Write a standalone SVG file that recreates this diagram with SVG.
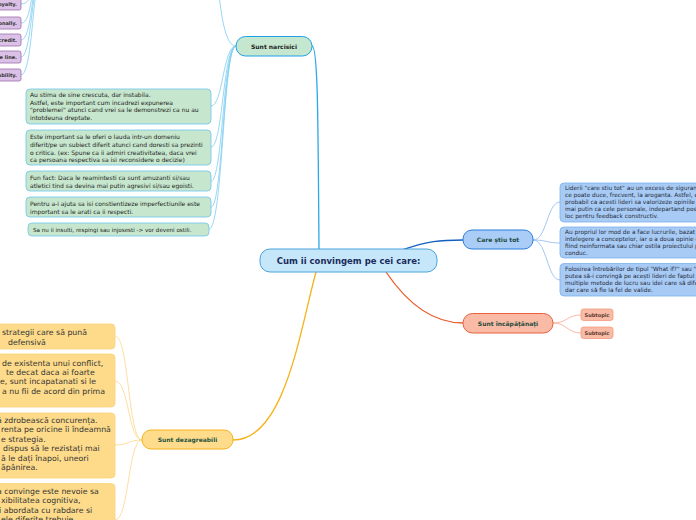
<svg xmlns="http://www.w3.org/2000/svg" width="696" height="520" viewBox="0 0 696 520">
<style>
text{font-family:"DejaVu Sans","Liberation Sans",sans-serif}
.c{fill:none}
.main{font-weight:bold;font-size:8.5px;fill:#1a2b5c}
.br{font-weight:bold;font-size:6px}
.g rect{fill:#c6e6cd;stroke:#6cc5ec;stroke-width:0.8}
.g text{font-size:6px;fill:#222}
.p rect{fill:#dcc1e6;stroke:#9c6fae;stroke-width:0.8}
.p text{font-size:5px;font-weight:bold;fill:#333;text-anchor:end}
.b rect{fill:#a8cbf5;stroke:#7ab0ee;stroke-width:0.8}
.b text{font-size:5.8px;fill:#1f2a3a}
.y rect{fill:#fedb8a;stroke:#fbd27a;stroke-width:0.8}
.y text{font-size:7.8px;fill:#333}
.s rect{fill:#f9bba5;stroke:#f29a7e;stroke-width:0.8}
.s text{font-size:5px;font-weight:bold;fill:#5a3a30;text-anchor:middle}
</style>
<rect width="696" height="520" fill="#fff"/>
<g id="connectors" class="c">
  <g stroke="#2aa9e6" stroke-width="1.3"><path d="M319,249 C318,120 318,46 312,46"/></g>
  <g stroke="#1560bd" stroke-width="1.5"><path d="M402,250 C428,241 440,240 463,240"/></g>
  <g stroke="#e85a2c" stroke-width="1.3"><path d="M386,272 C405,300 430,323 463,323"/></g>
  <g stroke="#f6b219" stroke-width="1.3"><path d="M316,272 C300,330 285,440 233,440"/></g>
  <g stroke="#7fcdf0" stroke-width="0.8">
    <path d="M236,46 C226,46 222,20 219,-5"/>
    <path d="M236,46 C223,46 223,106 211,106"/>
    <path d="M236,46 C223,46 223,147 211,147"/>
    <path d="M236,46 C223,46 223,181 211,181"/>
    <path d="M236,46 C223,46 223,207 211,207"/>
    <path d="M236,46 C223,46 223,229 209,229"/>
    <path d="M21,4 C28,4 30,-2 32,-8"/>
    <path d="M21,23 C29,23 30,5 33,-8"/>
    <path d="M21,40 C29,40 31,10 34,-8"/>
    <path d="M21,57 C29,57 31,15 35,-8"/>
    <path d="M21,75 C30,75 32,20 36,-8"/>
  </g>
  <g stroke="#8db8ee" stroke-width="0.8">
    <path d="M533,240 C547,240 547,202 560,202"/>
    <path d="M533,240 C547,240 547,243 560,243"/>
    <path d="M533,240 C547,240 547,280 560,280"/>
  </g>
  <g stroke="#f6a88f" stroke-width="0.8">
    <path d="M553,323 C567,323 567,315 581,315"/>
    <path d="M553,323 C567,323 567,333 581,333"/>
  </g>
  <g stroke="#fcd68a" stroke-width="0.8">
    <path d="M142,440 C128,440 129,336 115,336"/>
    <path d="M142,440 C128,440 129,381 115,381"/>
    <path d="M142,440 C128,440 129,445 115,445"/>
    <path d="M142,440 C128,440 129,520 115,520"/>
  </g>
</g>
<g id="central">
  <rect x="260" y="249" width="177" height="23" rx="10" fill="#c6e7fa" stroke="#4ba3dc" stroke-width="1"/>
  <text class="main" x="348.5" y="264" text-anchor="middle">Cum ii convingem pe cei care:</text>
</g>
<g id="narcisici">
  <rect x="236" y="36.5" width="76" height="19.5" rx="9.5" fill="#c5e6cf" stroke="#1ea1e8" stroke-width="1"/>
  <text class="br" x="274" y="48.5" text-anchor="middle" fill="#222">Sunt narcisici</text>
</g>
<g id="care-stiu-tot">
  <rect x="463" y="230" width="70" height="19" rx="9" fill="#a9cdf7" stroke="#2b7de0" stroke-width="1"/>
  <text class="br" x="498" y="242" text-anchor="middle" fill="#1e4a3c">Care știu tot</text>
</g>
<g id="incapatanati">
  <rect x="463" y="313.5" width="90" height="19.5" rx="9.5" fill="#f9bba5" stroke="#e8603c" stroke-width="1"/>
  <text class="br" x="508" y="325.5" text-anchor="middle" fill="#1e4a3c">Sunt încăpățânați</text>
</g>
<g id="dezagreabili">
  <rect x="142" y="430" width="91" height="19" rx="9" fill="#fedc8c" stroke="#f5b21a" stroke-width="1"/>
  <text class="br" x="187.5" y="442" text-anchor="middle" fill="#1e5540">Sunt dezagreabili</text>
</g>
<g id="p1" class="p"><rect x="-60" y="-3" width="81" height="13" rx="2"/><text x="17" y="6">oyalty.</text></g>
<g id="p2" class="p"><rect x="-60" y="17" width="81" height="12" rx="2"/><text x="17" y="24.8">onally.</text></g>
<g id="p3" class="p"><rect x="-60" y="34" width="81" height="12" rx="2"/><text x="17" y="41.8">credit.</text></g>
<g id="p4" class="p"><rect x="-60" y="51" width="81" height="12" rx="2"/><text x="17" y="58.8">e line.</text></g>
<g id="p5" class="p"><rect x="-60" y="69" width="81" height="12" rx="2"/><text x="17" y="76.8">ability.</text></g>
<g id="g1" class="g"><rect x="26" y="89" width="185" height="35" rx="4"/>
  <text x="30" y="97">Au stima de sine crescuta, dar instabila.</text>
  <text x="30" y="104.5">Astfel, este important cum incadrezi expunerea</text>
  <text x="30" y="112">"problemei" atunci cand vrei sa le demonstrezi ca nu au</text>
  <text x="30" y="119.5">intotdeuna dreptate.</text></g>
<g id="g2" class="g"><rect x="26" y="130" width="185" height="35" rx="4"/>
  <text x="30" y="138.5">Este important sa le oferi o lauda intr-un domeniu</text>
  <text x="30" y="146.5">diferit/pe un subiect diferit atunci cand doresti sa prezinti</text>
  <text x="30" y="154.5">o critica. (ex: Spune ca ii admiri creativitatea, daca vrei</text>
  <text x="30" y="162">ca persoana respectiva sa isi reconsidere o decizie)</text></g>
<g id="g3" class="g"><rect x="26" y="171" width="185" height="20" rx="4"/>
  <text x="30" y="179.5">Fun fact: Daca le reamintesti ca sunt amuzanti si/sau</text>
  <text x="30" y="187.5">atletici tind sa devina mai putin agresivi si/sau egoisti.</text></g>
<g id="g4" class="g"><rect x="26" y="197" width="185" height="20" rx="4"/>
  <text x="30" y="205.5">Pentru a-i ajuta sa isi constientizeze imperfectiunile este</text>
  <text x="30" y="213.5">important sa le arati ca ii respecti.</text></g>
<g id="g5" class="g"><rect x="28" y="223" width="181" height="13" rx="4"/>
  <text x="33" y="231.5" style="font-size:5.6px">Sa nu ii insulti, respingi sau injosesti -&gt; vor deveni ostili.</text></g>
<g id="b1" class="b"><rect x="560" y="183" width="150" height="39" rx="4"/>
  <text x="565" y="190">Liderii "care stiu tot" au un excess de siguranta</text>
  <text x="565" y="197">ce poate duce, frecvent, la aroganta. Astfel, este</text>
  <text x="565" y="204">probabil ca acesti lideri sa valorizeze opiniile si</text>
  <text x="565" y="211">mai putin ca cele personale, indepartand posibilitatea</text>
  <text x="565" y="218">loc pentru feedback constructiv.</text></g>
<g id="b2" class="b"><rect x="560" y="227" width="150" height="31" rx="4"/>
  <text x="565" y="234">Au propriul lor mod de a face lucrurile, bazat pe</text>
  <text x="565" y="241">intelegere a conceptelor, iar o a doua opinie este</text>
  <text x="565" y="248">fiind neinformata sau chiar ostila proiectului pe care</text>
  <text x="565" y="255">conduc.</text></g>
<g id="b3" class="b"><rect x="560" y="263.5" width="150" height="32.5" rx="4"/>
  <text x="565" y="271">Folosirea întrebărilor de tipul "What if?" sau "Ce</text>
  <text x="565" y="278">putea să-i convingă pe acești lideri de faptul că</text>
  <text x="565" y="285">multiple metode de lucru sau idei care să difere</text>
  <text x="565" y="292">dar care să fie la fel de valide.</text></g>
<g id="s1" class="s"><rect x="581" y="309" width="32" height="11.5" rx="2.5"/><text x="597" y="316.8">Subtopic</text></g>
<g id="s2" class="s"><rect x="581" y="327" width="32" height="11.5" rx="2.5"/><text x="597" y="334.8">Subtopic</text></g>
<g id="y1" class="y"><rect x="-80" y="324" width="195" height="25" rx="4"/>
  <text x="2" y="334.5">strategii care să pună</text>
  <text x="8" y="344.5">defensivă</text></g>
<g id="y2" class="y"><rect x="-80" y="354" width="195" height="53" rx="4"/>
  <text x="2" y="365.5">de existenta unui conflict,</text>
  <text x="6" y="374.8">te decat daca ai foarte</text>
  <text x="0" y="384">e, sunt incapatanati si le</text>
  <text x="2" y="393.5">a nu fii de acord din prima</text></g>
<g id="y3" class="y"><rect x="-80" y="413" width="195" height="65" rx="4"/>
  <text x="-3" y="422.5">ă zdrobească concurența.</text>
  <text x="1" y="432">renta pe oricine îi îndeamnă</text>
  <text x="1" y="441.5">e strategia.</text>
  <text x="3" y="451">dispus să le rezistați mai</text>
  <text x="1" y="460.5">ă le dați înapoi, uneori</text>
  <text x="1" y="470">ăpânirea.</text></g>
<g id="y4" class="y"><rect x="-80" y="483.5" width="195" height="80" rx="4"/>
  <text x="-3" y="493.5">a convinge este nevoie sa</text>
  <text x="1" y="503">xibilitatea cognitiva,</text>
  <text x="-1" y="512.5">i abordata cu rabdare si</text>
  <text x="1" y="522">ele diferite trebuie</text></g>
</svg>
